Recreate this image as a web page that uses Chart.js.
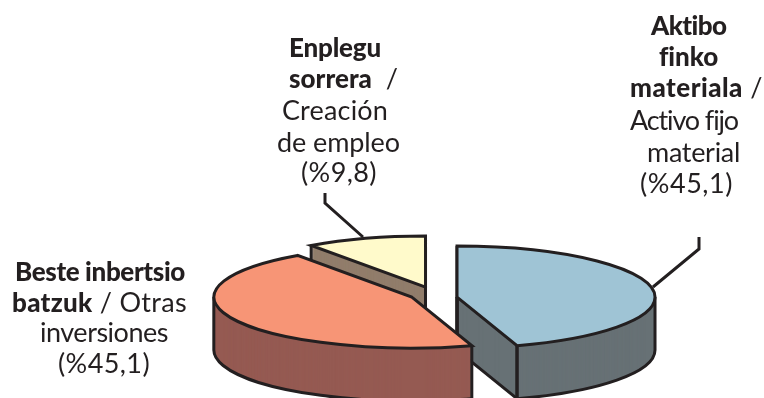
<!DOCTYPE html>
<html>
<head>
<meta charset="utf-8">
<style>html,body{margin:0;padding:0;background:#fff}canvas{display:block}</style>
<script src="https://cdn.jsdelivr.net/npm/chart.js@4/dist/chart.umd.min.js"></script>
</head>
<body>
<canvas id="c" width="764" height="398"></canvas>
<script>
const categories = ['Aktibo finko materiala / Activo fijo material', 'Beste inbertsio batzuk / Otras inversiones', 'Enplegu sorrera / Creación de empleo'];
const values = [45.1, 45.1, 9.8];
const topColors = ['#9fc4d5', '#f79576', '#fffacb'];
const wallColors = ['#677175', '#955a52', '#917d6b'];
const drawOrder = [2, 0, 1];
const nudges = [[0, 0], [0, -3.7], [-0.5, -5]];
const ink = '#231f20';
const squash = 51 / 198, depth = 53;
const pieCentre = {x: 433.3, y: 298};

const labelLines = [
  [289, 57, 92, [['Enplegu', 1]]],
  [289, 88, 109, [['sorrera', 1], ['  /', 0]]],
  [282, 120, 106, [['Creación', 0]]],
  [277, 152, 123, [['de empleo', 0]]],
  [301, 182, 76, [['(%9,8)', 0]]],
  [651, 35, 76, [['Aktibo', 1]]],
  [659, 66, 59, [['finko', 1]]],
  [630, 97, 133, [['materiala', 1], [' /', 0]]],
  [630, 130, 108, [['Activo fijo', 0]]],
  [647, 162, 93, [['material', 0]]],
  [640, 193, 93, [['(%45,1)', 0]]],
  [15, 281, 170, [['Beste inbertsio', 1]]],
  [12, 312, 175, [['batzuk', 1], [' / Otras', 0]]],
  [40, 342, 128, [['inversiones', 0]]],
  [58, 373, 92, [['(%45,1)', 0]]]
];
const leaders = [
  [[325, 193], [325, 203], [363, 237]],
  [[699, 237], [699, 249], [653, 287]]
];

const pie3d = {
  id: 'pie3d',
  beforeDatasetsDraw(chart) {
    const ctx = chart.ctx;
    const arcs = chart.getDatasetMeta(0).data;
    ctx.save();
    ctx.lineJoin = 'miter';
    ctx.lineCap = 'butt';
    ctx.lineWidth = 3;
    ctx.strokeStyle = ink;
    leaders.forEach(l => {
      ctx.beginPath();
      l.forEach((p, i) => i ? ctx.lineTo(p[0], p[1]) : ctx.moveTo(p[0], p[1]));
      ctx.stroke();
    });
    drawOrder.forEach(i => {
      const el = arcs[i];
      const a0 = el.startAngle, a1 = el.endAngle, mid = (a0 + a1) / 2;
      const off = el.options.offset / 4;
      const rx = el.outerRadius, ry = rx * squash;
      const cx = pieCentre.x + Math.cos(mid) * off + nudges[i][0];
      const cy = pieCentre.y + Math.sin(mid) * off * squash + nudges[i][1];
      const pt = a => [cx + rx * Math.cos(a), cy + ry * Math.sin(a)];
      const wedge = dy => {
        ctx.beginPath();
        ctx.moveTo(cx, cy + dy);
        ctx.ellipse(cx, cy + dy, rx, ry, 0, a0, a1);
        ctx.closePath();
      };
      // side walls
      ctx.fillStyle = wallColors[i];
      for (let d = depth; d > 0; d--) { wedge(d); ctx.fill(); }
      // wall outlines: outer arc front part
      const from = Math.max(a0, 0), to = Math.min(a1, Math.PI);
      const seg = (p, q) => { ctx.beginPath(); ctx.moveTo(p[0], p[1]); ctx.lineTo(q[0], q[1]); ctx.stroke(); };
      if (to > from) {
        ctx.beginPath();
        ctx.ellipse(cx, cy + depth, rx, ry, 0, from, to);
        ctx.stroke();
        [from, to].forEach(a => { const p = pt(a); seg(p, [p[0], p[1] + depth]); });
      }
      // wall outlines: cut faces facing the viewer
      const eps = 0.02;
      const edges = [];
      if (Math.cos(a1) >= -eps) edges.push(a1);
      if (Math.cos(a0) <= eps) edges.push(a0);
      edges.forEach(a => {
        const p = pt(a);
        seg([cx, cy + depth], [p[0], p[1] + depth]);
        seg(p, [p[0], p[1] + depth]);
        seg([cx, cy], [cx, cy + depth]);
      });
      // top face, from the library's arc element geometry
      wedge(0);
      ctx.fillStyle = el.options.backgroundColor;
      ctx.fill();
      ctx.stroke();
    });
    ctx.fillStyle = ink;
    ctx.textBaseline = 'alphabetic';
    ctx.textAlign = 'left';
    const fontOf = b => b ? '900 26px Lato' : '400 27px Lato';
    labelLines.forEach(([x, y, w, runs]) => {
      ctx.letterSpacing = '0px';
      let total = 0, count = 0;
      runs.forEach(([t, b]) => {
        ctx.font = fontOf(b);
        total += ctx.measureText(t).width;
        count += t.length;
      });
      ctx.letterSpacing = ((w - total) / count).toFixed(3) + 'px';
      let px = x;
      runs.forEach(([t, b]) => {
        ctx.font = fontOf(b);
        ctx.fillText(t, px, y);
        px += ctx.measureText(t).width;
      });
    });
    ctx.restore();
    return false;
  }
};

new Chart(document.getElementById('c'), {
  type: 'pie',
  data: {
    labels: categories,
    datasets: [{
      data: values,
      backgroundColor: topColors,
      borderWidth: 0,
      offset: 96,
      radius: 198
    }]
  },
  options: {
    responsive: false,
    animation: false,
    layout: {padding: 0},
    plugins: {legend: {display: false}, tooltip: {enabled: false}}
  },
  plugins: [pie3d]
});
</script>
</body>
</html>
